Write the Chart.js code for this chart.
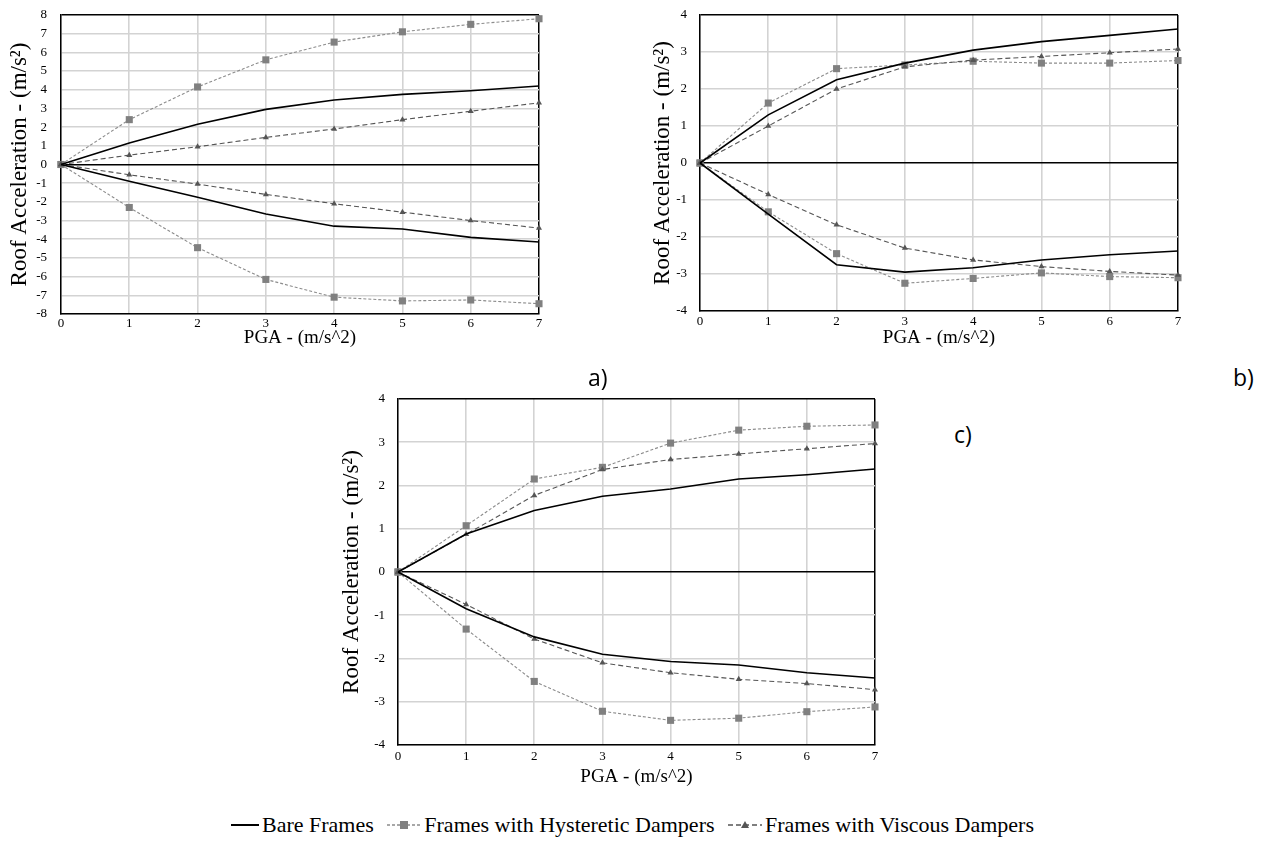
<!DOCTYPE html>
<html>
<head>
<meta charset="utf-8">
<script src="https://cdn.jsdelivr.net/npm/chart.js@4.4.1/dist/chart.umd.min.js"></script>
<style>
  body { margin: 0; background: #fff; width: 1265px; height: 846px; position: relative; overflow: hidden; }
  canvas { position: absolute; }
  .tag { position: absolute; font-family: 'Open Sans', sans-serif; font-size: 23px; color: #000; line-height: 1; }
  #legend { position: absolute; left: 0; top: 807px; width: 1265px; text-align: center; white-space: nowrap;
            font-family: 'Liberation Serif', serif; font-size: 22px; color: #000; line-height: 30px; }
  #legend span { display: inline-block; vertical-align: middle; }
  #legend svg { vertical-align: middle; margin-right: 3px; }
  .item { margin-right: 8px; }
</style>
</head>
<body>
<canvas id="chart-a" width="548" height="350" style="left:0;top:0"></canvas>
<canvas id="chart-b" width="548" height="350" style="left:640px;top:0"></canvas>
<canvas id="chart-c" width="548" height="409" style="left:335px;top:380px"></canvas>

<div class="tag" style="left:588px;top:366px">a)</div>
<div class="tag" style="left:1233px;top:366px">b)</div>
<div class="tag" style="left:954px;top:423px">c)</div>

<div id="legend">
  <span class="item"><svg width="28" height="10"><line x1="0" y1="5" x2="28" y2="5" stroke="#000" stroke-width="2"/></svg><span>Bare Frames</span></span>
  <span class="item"><svg width="34" height="12"><line x1="0" y1="6" x2="34" y2="6" stroke="#8c8c8c" stroke-width="1.3" stroke-dasharray="3,2"/><rect x="13" y="2" width="8" height="8" fill="#808080"/></svg><span>Frames with Hysteretic Dampers</span></span>
  <span><svg width="34" height="12"><line x1="0" y1="6" x2="34" y2="6" stroke="#555" stroke-width="1.3" stroke-dasharray="5,3"/><polygon points="17,2 21,9 13,9" fill="#555"/></svg><span>Frames with Viscous Dampers</span></span>
</div>

<script>
// PGA steps shared by all three panels
const pga = [0, 1, 2, 3, 4, 5, 6, 7];

// panel a)
const aBareUp   = [0, 1.15, 2.15, 2.95, 3.45, 3.75, 3.95, 4.2];
const aBareDown = [0, -0.9, -1.75, -2.65, -3.3, -3.45, -3.9, -4.15];
const aHystUp   = [0, 2.4, 4.15, 5.6, 6.55, 7.1, 7.5, 7.8];
const aHystDown = [0, -2.3, -4.45, -6.15, -7.1, -7.3, -7.25, -7.45];
const aViscUp   = [0, 0.5, 0.95, 1.45, 1.9, 2.4, 2.85, 3.3];
const aViscDown = [0, -0.55, -1.05, -1.6, -2.1, -2.55, -3.0, -3.4];

// panel b)
const bBareUp   = [0, 1.3, 2.25, 2.7, 3.05, 3.28, 3.45, 3.62];
const bBareDown = [0, -1.38, -2.75, -2.95, -2.83, -2.62, -2.48, -2.38];
const bHystUp   = [0, 1.62, 2.55, 2.65, 2.75, 2.7, 2.7, 2.77];
const bHystDown = [0, -1.32, -2.45, -3.25, -3.12, -2.97, -3.07, -3.1];
const bViscUp   = [0, 1.0, 2.0, 2.6, 2.78, 2.88, 2.98, 3.08];
const bViscDown = [0, -0.85, -1.67, -2.3, -2.62, -2.8, -2.93, -3.03];

// panel c)
const cBareUp   = [0, 0.88, 1.42, 1.75, 1.92, 2.15, 2.25, 2.38];
const cBareDown = [0, -0.85, -1.5, -1.9, -2.07, -2.15, -2.33, -2.45];
const cHystUp   = [0, 1.07, 2.15, 2.42, 2.98, 3.28, 3.37, 3.4];
const cHystDown = [0, -1.32, -2.53, -3.22, -3.43, -3.38, -3.23, -3.12];
const cViscUp   = [0, 0.87, 1.77, 2.37, 2.6, 2.73, 2.85, 2.97];
const cViscDown = [0, -0.75, -1.55, -2.1, -2.33, -2.48, -2.58, -2.72];

const SERIF = "'Liberation Serif', 'Times New Roman', serif";
const GRID = '#d3d3d3';

const pts = ys => ys.map((y, i) => ({ x: pga[i], y }));

function bare(ys) {
  return { data: pts(ys), borderColor: '#000', borderWidth: 1.6, pointRadius: 0, tension: 0, order: 1 };
}
function hyst(ys) {
  return { data: pts(ys), borderColor: '#8c8c8c', borderWidth: 1.1, borderDash: [3, 2],
           pointStyle: 'rect', pointRadius: 5, pointBackgroundColor: '#808080', pointBorderWidth: 0, order: 3 };
}
function visc(ys) {
  return { data: pts(ys), borderColor: '#555', borderWidth: 1.1, borderDash: [5, 3],
           pointStyle: 'triangle', pointRadius: 3.5, pointBackgroundColor: '#555', pointBorderWidth: 0, order: 2 };
}

function buildPanel(id, sets, yMax, g) {
  new Chart(document.getElementById(id), {
    type: 'line',
    data: { datasets: [bare(sets[0]), bare(sets[1]), hyst(sets[2]), hyst(sets[3]), visc(sets[4]), visc(sets[5])] },
    options: {
      responsive: false,
      animation: false,
      clip: false,
      layout: { padding: { top: g.top, right: g.right, left: 0, bottom: 0 } },
      plugins: { legend: { display: false }, tooltip: { enabled: false } },
      scales: {
        x: {
          type: 'linear', min: 0, max: 7,
          afterFit: s => { s.height = g.xAxisH; s.paddingLeft = 0; s.paddingRight = 0; },
          ticks: { stepSize: 1, autoSkip: false, maxRotation: 0, padding: g.xTickPad, color: '#000', font: { family: SERIF, size: 13 } },
          grid: { drawTicks: false, color: c => c.tick.value === 7 ? '#000' : GRID,
                  lineWidth: c => c.tick.value === 7 ? 1.5 : 1.6 },
          border: { color: '#000', width: 1.5 },
          title: { display: true, text: 'PGA - (m/s^2)', color: '#000', font: { family: SERIF, size: 19 },
                   padding: { top: 0, bottom: g.xTitlePad } }
        },
        y: {
          type: 'linear', min: -yMax, max: yMax,
          afterFit: s => { s.width = g.yAxisW; s.paddingTop = 0; s.paddingBottom = 0; },
          ticks: { stepSize: 1, autoSkip: false, padding: g.yTickPad, color: '#000', font: { family: SERIF, size: 13 } },
          grid: { drawTicks: false,
                  color: c => (c.tick.value === 0 || c.tick.value === yMax) ? '#000' : GRID,
                  lineWidth: c => (c.tick.value === 0 || c.tick.value === yMax) ? 1.5 : 1.6 },
          border: { color: '#000', width: 1.5 },
          title: { display: true, text: 'Roof Acceleration - (m/s²)', color: '#000', font: { family: SERIF, size: 23 },
                   padding: { top: g.yTitlePad, bottom: 0 } }
        }
      }
    }
  });
}

buildPanel('chart-a', [aBareUp, aBareDown, aHystUp, aHystDown, aViscUp, aViscDown], 8,
  { top: 15, right: 9, yAxisW: 61, xAxisH: 36, xTickPad: 2, xTitlePad: 1, yTickPad: 14, yTitlePad: 6 });
buildPanel('chart-b', [bBareUp, bBareDown, bHystUp, bHystDown, bViscUp, bViscDown], 4,
  { top: 15, right: 10, yAxisW: 60, xAxisH: 39, xTickPad: 3, xTitlePad: 1, yTickPad: 13, yTitlePad: 9 });
buildPanel('chart-c', [cBareUp, cBareDown, cHystUp, cHystDown, cViscUp, cViscDown], 4,
  { top: 19, right: 8, yAxisW: 63, xAxisH: 44, xTickPad: 4, xTitlePad: 1, yTickPad: 13, yTitlePad: 3 });
</script>
</body>
</html>
